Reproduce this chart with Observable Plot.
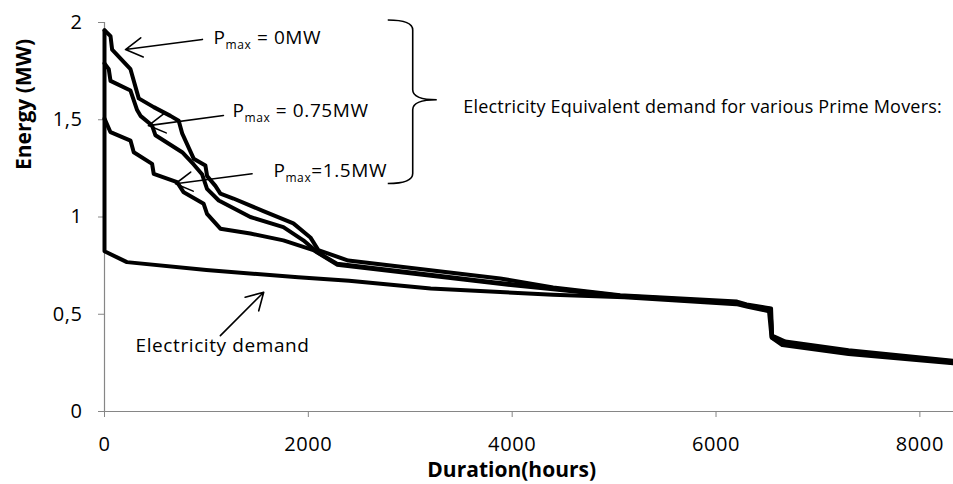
<!DOCTYPE html>
<html>
<head>
<meta charset="utf-8">
<script src="https://cdn.jsdelivr.net/npm/d3@7"></script>
<script src="https://cdn.jsdelivr.net/npm/@observablehq/plot@0.6"></script>
<style>
  html, body { margin: 0; padding: 0; background: #fff; }
  #chart { width: 953px; height: 484px; }
</style>
</head>
<body>
<div id="chart"></div>
<script>
// Load-duration curves (hours sorted by demand) in MW
const demandHours = [0, 0, 220, 1000, 1900, 2400, 3200, 4400, 5100, 6200, 6300, 6520, 6545, 6650, 7300, 8330];
const demandMW    = [1.96, 0.824, 0.768, 0.728, 0.69, 0.672, 0.632, 0.6, 0.588, 0.552, 0.54, 0.515, 0.38, 0.342, 0.296, 0.248];

const p0Hours = [0, 59, 75, 255, 336, 483, 647, 728, 762, 875, 990, 1007, 1088, 1137, 1265, 1559, 1853, 2020, 2098, 2392, 3882, 4402, 5059, 6206, 6300, 6540, 6550, 6680, 7300, 8330];
const p0MW    = [1.96, 1.93, 1.86, 1.76, 1.61, 1.565, 1.52, 1.495, 1.43, 1.30, 1.265, 1.21, 1.16, 1.12, 1.095, 1.03, 0.967, 0.895, 0.83, 0.776, 0.684, 0.638, 0.598, 0.565, 0.55, 0.53, 0.39, 0.36, 0.315, 0.26];

const p075Hours = [0, 42, 59, 255, 320, 353, 467, 500, 762, 875, 957, 1006, 1121, 1431, 1755, 1951, 2085, 2281, 3814, 4402, 5059, 6206, 6300, 6535, 6548, 6670, 7300, 8330];
const p075MW    = [1.79, 1.76, 1.70, 1.65, 1.55, 1.52, 1.47, 1.42, 1.333, 1.27, 1.22, 1.145, 1.085, 1.0, 0.948, 0.88, 0.82, 0.76, 0.665, 0.632, 0.595, 0.56, 0.547, 0.527, 0.385, 0.355, 0.31, 0.257];

const p15Hours = [0, 59, 255, 287, 467, 483, 712, 777, 973, 1006, 1137, 1431, 1755, 2049, 2281, 3814, 4402, 5059, 6206, 6300, 6535, 6548, 6670, 7300, 8330];
const p15MW    = [1.506, 1.436, 1.393, 1.333, 1.273, 1.222, 1.179, 1.127, 1.068, 1.016, 0.94, 0.915, 0.88, 0.83, 0.755, 0.66, 0.628, 0.593, 0.558, 0.545, 0.525, 0.38, 0.35, 0.305, 0.252];

const xTicks = [0, 2000, 4000, 6000, 8000];
const yTicks = [0, 0.5, 1, 1.5, 2];

const seriesList = [
  {name: "Electricity demand", hours: demandHours, mw: demandMW},
  {name: "Pmax = 0MW", hours: p0Hours, mw: p0MW},
  {name: "Pmax = 0.75MW", hours: p075Hours, mw: p075MW},
  {name: "Pmax = 1.5MW", hours: p15Hours, mw: p15MW}
];
const rows = seriesList.flatMap(s => s.hours.map((h, i) => ({series: s.name, hours: h, mw: s.mw[i]})));

// Callout labels and the arrows pointing from them to the curves
const callouts = [
  {text: "P_max = 0MW",   x: 1069, y: 1.923, ax: 961,  ay: 1.913, hx: 206,  hy: 1.861},
  {text: "P_max = 0.75MW", x: 1255, y: 1.548, ax: 1167, ay: 1.522, hx: 431,  hy: 1.47},
  {text: "P_max=1.5MW",   x: 1657, y: 1.239, ax: 1448, ay: 1.222, hx: 696,  hy: 1.171},
  {text: "Electricity demand", x: 304, y: 0.339, ax: 1137, ay: 0.39, hx: 1562, hy: 0.613}
];
const groupNote = {text: "Electricity Equivalent demand for various Prime Movers:", x: 3520, y: 1.563};

const axisGray = "#868686";
const font = "'Open Sans', sans-serif";

const plot = Plot.plot({
  width: 953,
  height: 484,
  marginLeft: 104,
  marginRight: 0,
  marginTop: 22,
  marginBottom: 73,
  style: {fontFamily: font, background: "#fff", overflow: "visible"},
  x: {domain: [0, 8330]},
  y: {domain: [0, 2]},
  marks: [
    Plot.ruleX([0], {stroke: axisGray, strokeWidth: 1.2}),
    Plot.ruleY([0], {stroke: axisGray, strokeWidth: 1.2}),
    Plot.axisX(xTicks, {tickSize: 6, tickPadding: 19, stroke: axisGray, fill: "#000", fontSize: 20, label: null,
      tickFormat: d => String(d)}),
    Plot.axisY(yTicks, {tickSize: 6, tickPadding: 16, stroke: axisGray, fill: "#000", fontSize: 20, label: null,
      tickFormat: d => String(d).replace(".", ",")}),
    Plot.line(rows, {x: "hours", y: "mw", z: "series", stroke: "#000", strokeWidth: 4, strokeLinejoin: "round"}),
    Plot.arrow(callouts, {x1: "ax", y1: "ay", x2: "hx", y2: "hy", stroke: "#000", strokeWidth: 1.6, headLength: 18, headAngle: 60}),
    Plot.text(callouts, {x: "x", y: "y", text: "text", textAnchor: "start", fontSize: 19, fill: "#000"}),
    Plot.text([groupNote], {x: "x", y: "y", text: "text", textAnchor: "start", fontSize: 18, fill: "#000"})
  ]
});

document.getElementById("chart").appendChild(plot);
const svg = d3.select(plot);

// subscripted "max" in the P_max labels
svg.selectAll("text").each(function() {
  const s = this.textContent;
  const m = s.match(/^P_max(.*)$/);
  if (!m) return;
  const t = d3.select(this);
  t.text(null);
  t.append("tspan").text("P");
  t.append("tspan").attr("font-size", 12).attr("dy", 5).text("max");
  t.append("tspan").attr("dy", -5).text(m[1]);
});
svg.selectAll("text").style("letter-spacing", "0.6px");
svg.selectAll("text").filter(function() { return this.textContent === groupNote.text; })
  .style("letter-spacing", "0.2px");

// curly brace grouping the three prime-mover curves
const sx = plot.scale("x"), sy = plot.scale("y");
const xe = sx.apply(2784), xc = sx.apply(3029), xt = sx.apply(3265);
const yT = sy.apply(2.01), yM = sy.apply(1.6), yB = sy.apply(1.17);
const r = 10;
const bracePath = `M${xe},${yT} Q${xc},${yT} ${xc},${yT + r} L${xc},${yM - r} Q${xc},${yM} ${xt},${yM} ` +
  `Q${xc},${yM} ${xc},${yM + r} L${xc},${yB - r} Q${xc},${yB} ${xe},${yB}`;
svg.append("path").attr("d", bracePath).attr("fill", "none").attr("stroke", "#000").attr("stroke-width", 1.6);

// axis titles
svg.append("text")
  .attr("transform", `translate(24,${(sy.apply(2) + sy.apply(0)) / 2 - 112}) rotate(-90)`)
  .attr("text-anchor", "middle").attr("dy", "0.35em")
  .attr("font-size", 21).attr("font-weight", "bold").style("font-family", font)
  .text("Energy (MW)");
svg.append("text")
  .attr("x", sx.apply(4000)).attr("y", 470)
  .attr("text-anchor", "middle").attr("dy", "0.35em")
  .attr("font-size", 21).attr("font-weight", "bold").style("font-family", font)
  .text("Duration(hours)");
</script>
</body>
</html>
